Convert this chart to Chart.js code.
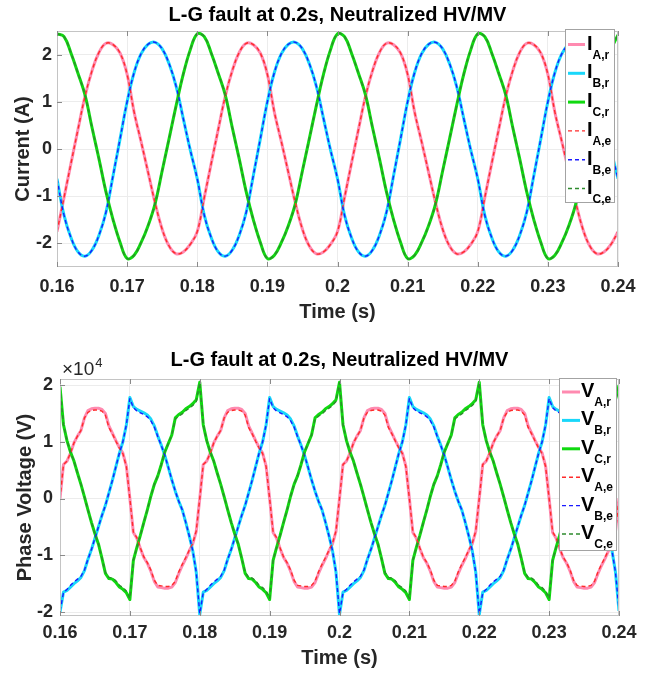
<!DOCTYPE html>
<html>
<head>
<meta charset="utf-8">
<script src="https://cdn.jsdelivr.net/npm/chart.js@4/dist/chart.umd.min.js"></script>
<style>
html,body{margin:0;padding:0;background:#fff;}
#wrap{position:relative;width:650px;height:675px;overflow:hidden;}
.cv{position:absolute;left:0;display:block;}
</style>
</head>
<body>
<div id="wrap">
<canvas id="cI" class="cv" width="650" height="330" style="top:0px;width:650px;height:330px"></canvas>
<canvas id="cV" class="cv" width="650" height="330" style="top:345px;width:650px;height:330px"></canvas>
</div>
<script>
// ---------------- DATA ----------------
const chartTitle = 'L-G fault at 0.2s, Neutralized HV/MV';
const xTicks = [0.16, 0.17, 0.18, 0.19, 0.20, 0.21, 0.22, 0.23, 0.24];
const yTicksI = [-2, -1, 0, 1, 2];
const yTicksV = [-2, -1, 0, 1, 2];           // in units of 10^4 V
const seriesNamesI = ['I_A,r', 'I_B,r', 'I_C,r', 'I_A,e', 'I_B,e', 'I_C,e'];
const seriesNamesV = ['V_A,r', 'V_B,r', 'V_C,r', 'V_A,e', 'V_B,e', 'V_C,e'];
const legendSubs = ['A,r', 'B,r', 'C,r', 'A,e', 'B,e', 'C,e'];

// sample grids (time axis, s)
const timeI = Array.from({length: 81}, (_, i) => +(0.16 + i * 0.001).toFixed(4));
const timeV = Array.from({length: 161}, (_, i) => +(0.16 + i * 0.0005).toFixed(5));

// currents (A), one value per ms
const IAr = [-1.75,-1.03,-0.30,0.42,1.12,1.66,2.05,2.24,2.21,2.03,1.58,0.78,0.15,-0.50,-1.15,-1.70,-2.06,-2.22,-2.18,-2.02,
 -1.75,-1.03,-0.30,0.42,1.12,1.66,2.05,2.24,2.21,2.03,1.58,0.78,0.15,-0.50,-1.15,-1.70,-2.06,-2.22,-2.18,-2.02,
 -1.75,-1.03,-0.30,0.42,1.12,1.66,2.05,2.24,2.21,2.03,1.58,0.78,0.15,-0.50,-1.15,-1.70,-2.06,-2.22,-2.18,-2.02,
 -1.75,-1.03,-0.30,0.42,1.12,1.66,2.05,2.24,2.21,2.03,1.58,0.78,0.15,-0.50,-1.15,-1.70,-2.06,-2.22,-2.18,-2.02,
 -1.75];
const IBr = [-0.63,-1.40,-1.88,-2.18,-2.27,-2.14,-1.82,-1.33,-0.56,0.22,1.00,1.62,2.02,2.22,2.26,2.12,1.80,1.32,0.65,-0.02,
 -0.63,-1.40,-1.88,-2.18,-2.27,-2.14,-1.82,-1.33,-0.56,0.22,1.00,1.62,2.02,2.22,2.26,2.12,1.80,1.32,0.65,-0.02,
 -0.63,-1.40,-1.88,-2.18,-2.27,-2.14,-1.82,-1.33,-0.56,0.22,1.00,1.62,2.02,2.22,2.26,2.12,1.80,1.32,0.65,-0.02,
 -0.63,-1.40,-1.88,-2.18,-2.27,-2.14,-1.82,-1.33,-0.56,0.22,1.00,1.62,2.02,2.22,2.26,2.12,1.80,1.32,0.65,-0.02,
 -0.63];
const ICr = [2.44,2.38,2.03,1.60,1.14,0.45,-0.22,-0.92,-1.50,-1.98,-2.32,-2.25,-1.98,-1.62,-1.15,-0.46,0.23,0.93,1.58,2.10,
 2.44,2.38,2.03,1.60,1.14,0.45,-0.22,-0.92,-1.50,-1.98,-2.32,-2.25,-1.98,-1.62,-1.15,-0.46,0.23,0.93,1.58,2.10,
 2.44,2.38,2.03,1.60,1.14,0.45,-0.22,-0.92,-1.50,-1.98,-2.32,-2.25,-1.98,-1.62,-1.15,-0.46,0.23,0.93,1.58,2.10,
 2.44,2.38,2.03,1.60,1.14,0.45,-0.22,-0.92,-1.50,-1.98,-2.32,-2.25,-1.98,-1.62,-1.15,-0.46,0.23,0.93,1.58,2.10,
 2.42];
const IAe = [-1.75,-1.03,-0.30,0.42,1.12,1.66,2.05,2.24,2.21,2.03,1.58,0.78,0.15,-0.50,-1.15,-1.70,-2.06,-2.22,-2.18,-2.02,
 -1.75,-1.03,-0.30,0.42,1.12,1.66,2.05,2.24,2.21,2.03,1.58,0.78,0.15,-0.50,-1.15,-1.70,-2.06,-2.22,-2.18,-2.02,
 -1.75,-1.03,-0.30,0.42,1.12,1.66,2.05,2.24,2.21,2.03,1.58,0.78,0.15,-0.50,-1.15,-1.70,-2.06,-2.22,-2.18,-2.02,
 -1.75,-1.03,-0.30,0.42,1.12,1.66,2.05,2.24,2.21,2.03,1.58,0.78,0.15,-0.50,-1.15,-1.70,-2.06,-2.22,-2.18,-2.02,
 -1.75];
const IBe = [-0.63,-1.40,-1.88,-2.18,-2.27,-2.14,-1.82,-1.33,-0.56,0.22,1.00,1.62,2.02,2.22,2.26,2.12,1.80,1.32,0.65,-0.02,
 -0.63,-1.40,-1.88,-2.18,-2.27,-2.14,-1.82,-1.33,-0.56,0.22,1.00,1.62,2.02,2.22,2.26,2.12,1.80,1.32,0.65,-0.02,
 -0.63,-1.40,-1.88,-2.18,-2.27,-2.14,-1.82,-1.33,-0.56,0.22,1.00,1.62,2.02,2.22,2.26,2.12,1.80,1.32,0.65,-0.02,
 -0.63,-1.40,-1.88,-2.18,-2.27,-2.14,-1.82,-1.33,-0.56,0.22,1.00,1.62,2.02,2.22,2.26,2.12,1.80,1.32,0.65,-0.02,
 -0.63];
const ICe = [2.44,2.38,2.03,1.60,1.14,0.45,-0.22,-0.92,-1.50,-1.98,-2.32,-2.25,-1.98,-1.62,-1.15,-0.46,0.23,0.93,1.58,2.10,
 2.44,2.38,2.03,1.60,1.14,0.45,-0.22,-0.92,-1.50,-1.98,-2.32,-2.25,-1.98,-1.62,-1.15,-0.46,0.23,0.93,1.58,2.10,
 2.44,2.38,2.03,1.60,1.14,0.45,-0.22,-0.92,-1.50,-1.98,-2.32,-2.25,-1.98,-1.62,-1.15,-0.46,0.23,0.93,1.58,2.10,
 2.44,2.38,2.03,1.60,1.14,0.45,-0.22,-0.92,-1.50,-1.98,-2.32,-2.25,-1.98,-1.62,-1.15,-0.46,0.23,0.93,1.58,2.10,
 2.42];

// phase voltages (x10^4 V), one value per 0.5 ms
const VAr = [0.00,0.60,0.66,0.80,0.98,1.10,1.20,1.42,1.55,1.58,1.59,1.59,1.57,1.50,1.28,1.15,1.02,0.90,0.80,0.57,0.00,-0.60,-0.70,-0.88,-1.04,-1.14,-1.28,-1.46,-1.56,-1.57,-1.58,-1.58,-1.56,-1.48,-1.32,-1.18,-1.06,-0.92,-0.80,-0.58,
 0.00,0.60,0.66,0.80,0.98,1.10,1.20,1.42,1.55,1.58,1.59,1.59,1.57,1.50,1.28,1.15,1.02,0.90,0.80,0.57,0.00,-0.60,-0.70,-0.88,-1.04,-1.14,-1.28,-1.46,-1.56,-1.57,-1.58,-1.58,-1.56,-1.48,-1.32,-1.18,-1.06,-0.92,-0.80,-0.58,
 0.00,0.60,0.66,0.80,0.98,1.10,1.20,1.42,1.55,1.58,1.59,1.59,1.57,1.50,1.28,1.15,1.02,0.90,0.80,0.57,0.00,-0.60,-0.70,-0.88,-1.04,-1.14,-1.28,-1.46,-1.56,-1.57,-1.58,-1.58,-1.56,-1.48,-1.32,-1.18,-1.06,-0.92,-0.80,-0.58,
 0.00,0.60,0.66,0.80,0.98,1.10,1.20,1.42,1.55,1.58,1.59,1.59,1.57,1.50,1.28,1.15,1.02,0.90,0.80,0.57,0.00,-0.60,-0.70,-0.88,-1.04,-1.14,-1.28,-1.46,-1.56,-1.57,-1.58,-1.58,-1.56,-1.48,-1.32,-1.18,-1.06,-0.92,-0.80,-0.58,
 0.00];
const VBr = [-2.00,-1.65,-1.62,-1.56,-1.50,-1.45,-1.39,-1.27,-1.07,-0.90,-0.70,-0.50,-0.30,-0.12,0.10,0.32,0.56,0.80,1.00,1.30,1.78,1.62,1.57,1.54,1.51,1.47,1.40,1.28,1.10,0.94,0.76,0.55,0.33,0.13,-0.05,-0.20,-0.42,-0.66,-0.92,-1.30,
 -2.05,-1.65,-1.62,-1.56,-1.50,-1.45,-1.39,-1.27,-1.07,-0.90,-0.70,-0.50,-0.30,-0.12,0.10,0.32,0.56,0.80,1.00,1.30,1.78,1.62,1.57,1.54,1.51,1.47,1.40,1.28,1.10,0.94,0.76,0.55,0.33,0.13,-0.05,-0.20,-0.42,-0.66,-0.92,-1.30,
 -2.05,-1.65,-1.62,-1.56,-1.50,-1.45,-1.39,-1.27,-1.07,-0.90,-0.70,-0.50,-0.30,-0.12,0.10,0.32,0.56,0.80,1.00,1.30,1.78,1.62,1.57,1.54,1.51,1.47,1.40,1.28,1.10,0.94,0.76,0.55,0.33,0.13,-0.05,-0.20,-0.42,-0.66,-0.92,-1.30,
 -2.05,-1.65,-1.62,-1.56,-1.50,-1.45,-1.39,-1.27,-1.07,-0.90,-0.70,-0.50,-0.30,-0.12,0.10,0.32,0.56,0.80,1.00,1.30,1.78,1.62,1.57,1.54,1.51,1.47,1.40,1.28,1.10,0.94,0.76,0.55,0.33,0.13,-0.05,-0.20,-0.42,-0.66,-0.92,-1.30,
 -1.98];
const VCr = [1.97,1.30,1.02,0.82,0.66,0.45,0.25,0.03,-0.20,-0.42,-0.62,-0.80,-1.05,-1.32,-1.41,-1.42,-1.48,-1.56,-1.60,-1.66,-1.78,-1.09,-0.86,-0.65,-0.42,-0.20,0.04,0.25,0.40,0.60,0.82,0.97,1.12,1.42,1.48,1.52,1.58,1.62,1.67,1.74,
 2.05,1.30,1.02,0.82,0.66,0.45,0.25,0.03,-0.20,-0.42,-0.62,-0.80,-1.05,-1.32,-1.41,-1.42,-1.48,-1.56,-1.60,-1.66,-1.78,-1.09,-0.86,-0.65,-0.42,-0.20,0.04,0.25,0.40,0.60,0.82,0.97,1.12,1.42,1.48,1.52,1.58,1.62,1.67,1.74,
 2.05,1.30,1.02,0.82,0.66,0.45,0.25,0.03,-0.20,-0.42,-0.62,-0.80,-1.05,-1.32,-1.41,-1.42,-1.48,-1.56,-1.60,-1.66,-1.78,-1.09,-0.86,-0.65,-0.42,-0.20,0.04,0.25,0.40,0.60,0.82,0.97,1.12,1.42,1.48,1.52,1.58,1.62,1.67,1.74,
 2.05,1.30,1.02,0.82,0.66,0.45,0.25,0.03,-0.20,-0.42,-0.62,-0.80,-1.05,-1.32,-1.41,-1.42,-1.48,-1.56,-1.60,-1.66,-1.78,-1.09,-0.86,-0.65,-0.42,-0.20,0.04,0.25,0.40,0.60,0.82,0.97,1.12,1.42,1.48,1.52,1.58,1.62,1.67,1.74,
 2.00];
const VAe = [0.00,0.60,0.66,0.80,0.98,1.10,1.20,1.42,1.52,1.55,1.56,1.56,1.54,1.47,1.25,1.14,1.01,0.89,0.79,0.56,0.00,-0.59,-0.69,-0.87,-1.03,-1.13,-1.26,-1.44,-1.53,-1.54,-1.55,-1.55,-1.53,-1.46,-1.29,-1.16,-1.04,-0.91,-0.79,-0.57,
 0.00,0.60,0.66,0.80,0.98,1.10,1.20,1.42,1.52,1.55,1.56,1.56,1.54,1.47,1.25,1.14,1.01,0.89,0.79,0.56,0.00,-0.59,-0.69,-0.87,-1.03,-1.13,-1.26,-1.44,-1.53,-1.54,-1.55,-1.55,-1.53,-1.46,-1.29,-1.16,-1.04,-0.91,-0.79,-0.57,
 0.00,0.60,0.66,0.80,0.98,1.10,1.20,1.42,1.52,1.55,1.56,1.56,1.54,1.47,1.25,1.14,1.01,0.89,0.79,0.56,0.00,-0.59,-0.69,-0.87,-1.03,-1.13,-1.26,-1.44,-1.53,-1.54,-1.55,-1.55,-1.53,-1.46,-1.29,-1.16,-1.04,-0.91,-0.79,-0.57,
 0.00,0.60,0.66,0.80,0.98,1.10,1.20,1.42,1.52,1.55,1.56,1.56,1.54,1.47,1.25,1.14,1.01,0.89,0.79,0.56,0.00,-0.59,-0.69,-0.87,-1.03,-1.13,-1.26,-1.44,-1.53,-1.54,-1.55,-1.55,-1.53,-1.46,-1.29,-1.16,-1.04,-0.91,-0.79,-0.57,
 0.00];
const VBe = [-1.98,-1.66,-1.60,-1.53,-1.47,-1.42,-1.37,-1.26,-1.07,-0.90,-0.70,-0.50,-0.30,-0.12,0.10,0.32,0.56,0.80,1.00,1.30,1.76,1.60,1.54,1.51,1.48,1.44,1.37,1.26,1.09,0.93,0.76,0.55,0.33,0.13,-0.05,-0.20,-0.42,-0.66,-0.92,-1.30,
 -2.03,-1.66,-1.60,-1.53,-1.47,-1.42,-1.37,-1.26,-1.07,-0.90,-0.70,-0.50,-0.30,-0.12,0.10,0.32,0.56,0.80,1.00,1.30,1.76,1.60,1.54,1.51,1.48,1.44,1.37,1.26,1.09,0.93,0.76,0.55,0.33,0.13,-0.05,-0.20,-0.42,-0.66,-0.92,-1.30,
 -2.03,-1.66,-1.60,-1.53,-1.47,-1.42,-1.37,-1.26,-1.07,-0.90,-0.70,-0.50,-0.30,-0.12,0.10,0.32,0.56,0.80,1.00,1.30,1.76,1.60,1.54,1.51,1.48,1.44,1.37,1.26,1.09,0.93,0.76,0.55,0.33,0.13,-0.05,-0.20,-0.42,-0.66,-0.92,-1.30,
 -2.03,-1.66,-1.60,-1.53,-1.47,-1.42,-1.37,-1.26,-1.07,-0.90,-0.70,-0.50,-0.30,-0.12,0.10,0.32,0.56,0.80,1.00,1.30,1.76,1.60,1.54,1.51,1.48,1.44,1.37,1.26,1.09,0.93,0.76,0.55,0.33,0.13,-0.05,-0.20,-0.42,-0.66,-0.92,-1.30,
 -1.96];
const VCe = [1.96,1.30,1.02,0.82,0.66,0.45,0.25,0.03,-0.20,-0.42,-0.62,-0.80,-1.05,-1.30,-1.39,-1.40,-1.45,-1.53,-1.57,-1.63,-1.76,-1.09,-0.86,-0.65,-0.42,-0.20,0.04,0.25,0.40,0.60,0.82,0.97,1.12,1.40,1.45,1.49,1.55,1.59,1.64,1.71,
 2.04,1.30,1.02,0.82,0.66,0.45,0.25,0.03,-0.20,-0.42,-0.62,-0.80,-1.05,-1.30,-1.39,-1.40,-1.45,-1.53,-1.57,-1.63,-1.76,-1.09,-0.86,-0.65,-0.42,-0.20,0.04,0.25,0.40,0.60,0.82,0.97,1.12,1.40,1.45,1.49,1.55,1.59,1.64,1.71,
 2.04,1.30,1.02,0.82,0.66,0.45,0.25,0.03,-0.20,-0.42,-0.62,-0.80,-1.05,-1.30,-1.39,-1.40,-1.45,-1.53,-1.57,-1.63,-1.76,-1.09,-0.86,-0.65,-0.42,-0.20,0.04,0.25,0.40,0.60,0.82,0.97,1.12,1.40,1.45,1.49,1.55,1.59,1.64,1.71,
 2.04,1.30,1.02,0.82,0.66,0.45,0.25,0.03,-0.20,-0.42,-0.62,-0.80,-1.05,-1.30,-1.39,-1.40,-1.45,-1.53,-1.57,-1.63,-1.76,-1.09,-0.86,-0.65,-0.42,-0.20,0.04,0.25,0.40,0.60,0.82,0.97,1.12,1.40,1.45,1.49,1.55,1.59,1.64,1.71,
 1.99];

// ---------------- STYLE ----------------
const FONT = "'Liberation Sans', Arial, Helvetica, sans-serif";
const TXT = '#262626';
const lineStyles = [
  {color: '#ff8ab0', width: 3,   dash: []},
  {color: '#19d7fa', width: 3,   dash: []},
  {color: '#10d910', width: 3,   dash: []},
  {color: '#ff2b2b', width: 1.4, dash: [4, 3]},
  {color: '#1a1aff', width: 1.4, dash: [4, 3]},
  {color: '#2e8b2e', width: 1.4, dash: [4, 3]}
];

function buildDatasets(time, series, names, smooth) {
  return series.map((vals, i) => ({
    label: names[i],
    data: vals.map((v, j) => ({x: time[j], y: v})),
    borderColor: lineStyles[i].color,
    borderWidth: lineStyles[i].width,
    borderDash: lineStyles[i].dash,
    pointRadius: 0,
    fill: false,
    tension: smooth ? 0.4 : 0,
    borderJoinStyle: 'round',
    order: 6 - i
  }));
}

const framePlugin = {
  id: 'frame',
  afterDatasetsDraw(chart, args, o) {
    const {ctx, chartArea: a, scales} = chart;
    ctx.save();
    ctx.strokeStyle = '#c4c4c4';
    ctx.lineWidth = 1;
    ctx.strokeRect(Math.round(a.left) + 0.5, Math.round(a.top) + 0.5,
                   Math.round(a.right - a.left) - 1, Math.round(a.bottom - a.top) - 1);
    ctx.strokeStyle = '#8a8a8a';
    ctx.beginPath();
    xTicks.forEach(v => {
      const px = Math.round(scales.x.getPixelForValue(v)) + 0.5;
      ctx.moveTo(px, a.bottom); ctx.lineTo(px, a.bottom - 5);
      ctx.moveTo(px, a.top); ctx.lineTo(px, a.top + 5);
    });
    o.yTicks.forEach(v => {
      const py = Math.round(scales.y.getPixelForValue(v)) + 0.5;
      ctx.moveTo(a.left, py); ctx.lineTo(a.left + 5, py);
    });
    ctx.stroke();
    if (o.exponent) {
      ctx.fillStyle = TXT;
      ctx.textBaseline = 'alphabetic';
      ctx.textAlign = 'left';
      ctx.font = `19px ${FONT}`;
      ctx.fillText('\u00d710', o.exponent.x, o.exponent.y);
      const w = ctx.measureText('\u00d710').width;
      ctx.font = `13px ${FONT}`;
      ctx.fillText('4', o.exponent.x + w + 1, o.exponent.y - 8);
    }
    ctx.restore();
  }
};

const legendPlugin = {
  id: 'mlLegend',
  afterDraw(chart, args, o) {
    const ctx = chart.ctx;
    ctx.save();
    ctx.fillStyle = '#ffffff';
    ctx.fillRect(o.x, o.y, o.w, o.h);
    ctx.strokeStyle = '#a3a3a3';
    ctx.lineWidth = 1;
    ctx.strokeRect(o.x + 0.5, o.y + 0.5, o.w - 1, o.h - 1);
    chart.data.datasets.forEach((ds, i) => {
      const yy = o.y + o.first + i * o.step;
      ctx.strokeStyle = ds.borderColor;
      ctx.lineWidth = ds.borderWidth;
      ctx.setLineDash(ds.borderDash || []);
      ctx.beginPath();
      ctx.moveTo(o.x + o.lx0, yy);
      ctx.lineTo(o.x + o.lx1, yy);
      ctx.stroke();
      ctx.setLineDash([]);
      ctx.fillStyle = '#000';
      ctx.textAlign = 'left';
      ctx.textBaseline = 'alphabetic';
      ctx.font = `bold 20px ${FONT}`;
      const tx = o.x + o.tx;
      ctx.fillText(o.main, tx, yy + 5);
      const w = ctx.measureText(o.main).width;
      ctx.font = `bold 12px ${FONT}`;
      ctx.fillText(legendSubs[i], tx + w, yy + 14);
    });
    ctx.restore();
  }
};

function fmtX(v) { return String(parseFloat(Number(v).toFixed(2))); }

function makeOptions(p) {
  return {
    responsive: false,
    animation: false,
    devicePixelRatio: 1,
    layout: {padding: {left: 0, right: p.padRight, top: 0, bottom: 0}},
    plugins: {
      legend: {display: false},
      tooltip: {enabled: false},
      title: {
        display: true, text: chartTitle, color: '#000', fullSize: false,
        font: {family: FONT, size: 20, weight: 'bold', lineHeight: 1.2},
        padding: {top: p.titleTop, bottom: p.titleBottom}
      },
      frame: {yTicks: p.yTicks, exponent: p.exponent},
      mlLegend: p.legend
    },
    scales: {
      x: {
        type: 'linear', min: 0.16, max: 0.24,
        afterBuildTicks: s => { s.ticks = xTicks.map(v => ({value: v})); },
        afterFit: s => { s.height = p.xHeight; },
        ticks: {
          callback: v => fmtX(v), color: TXT, padding: p.xTickPad,
          font: {family: FONT, size: 18, weight: 'bold'}, maxRotation: 0, autoSkip: false
        },
        grid: {color: '#ececec', drawTicks: false},
        border: {display: false},
        title: {
          display: true, text: 'Time (s)', color: TXT,
          font: {family: FONT, size: 20, weight: 'bold', lineHeight: 1.2},
          padding: {top: 0, bottom: p.xTitlePad}
        }
      },
      y: {
        type: 'linear', min: p.yMin, max: p.yMax,
        afterBuildTicks: s => { s.ticks = p.yTicks.map(v => ({value: v})); },
        afterFit: s => { s.width = p.yWidth; },
        ticks: {
          callback: v => String(v), color: TXT, padding: p.yTickPad,
          font: {family: FONT, size: 18, weight: 'bold'}
        },
        grid: {color: '#ececec', drawTicks: false},
        border: {display: false},
        title: {
          display: true, text: p.yTitle, color: TXT,
          font: {family: FONT, size: 20, weight: 'bold', lineHeight: 1.2},
          padding: {top: p.yTitlePad, bottom: 0}
        }
      }
    }
  };
}

new Chart(document.getElementById('cI'), {
  type: 'line',
  data: {datasets: buildDatasets(timeI, [IAr, IBr, ICr, IAe, IBe, ICe], seriesNamesI, true)},
  options: makeOptions({
    padRight: 32, titleTop: 3, titleBottom: 4, xHeight: 63, xTickPad: 9, xTitlePad: 6,
    yMin: -2.5, yMax: 2.5, yTicks: yTicksI, yWidth: 57, yTickPad: 5, yTitlePad: 11,
    yTitle: 'Current (A)', exponent: null,
    legend: {x: 565, y: 29, w: 50, h: 174, first: 15.5, step: 28.8, lx0: 3, lx1: 20, tx: 22, main: 'I'}
  }),
  plugins: [framePlugin, legendPlugin]
});

new Chart(document.getElementById('cV'), {
  type: 'line',
  data: {datasets: buildDatasets(timeV, [VAr, VBr, VCr, VAe, VBe, VCe], seriesNamesV, false)},
  options: makeOptions({
    padRight: 31, titleTop: 3, titleBottom: 7, xHeight: 59, xTickPad: 6, xTitlePad: 5,
    yMin: -2.07, yMax: 2.106, yTicks: yTicksV, yWidth: 60, yTickPad: 7, yTitlePad: 13,
    yTitle: 'Phase Voltage (V)', exponent: {x: 62, y: 30},
    legend: {x: 559, y: 33, w: 58, h: 173, first: 14, step: 28.4, lx0: 3, lx1: 21, tx: 22, main: 'V'}
  }),
  plugins: [framePlugin, legendPlugin]
});
</script>
</body>
</html>
